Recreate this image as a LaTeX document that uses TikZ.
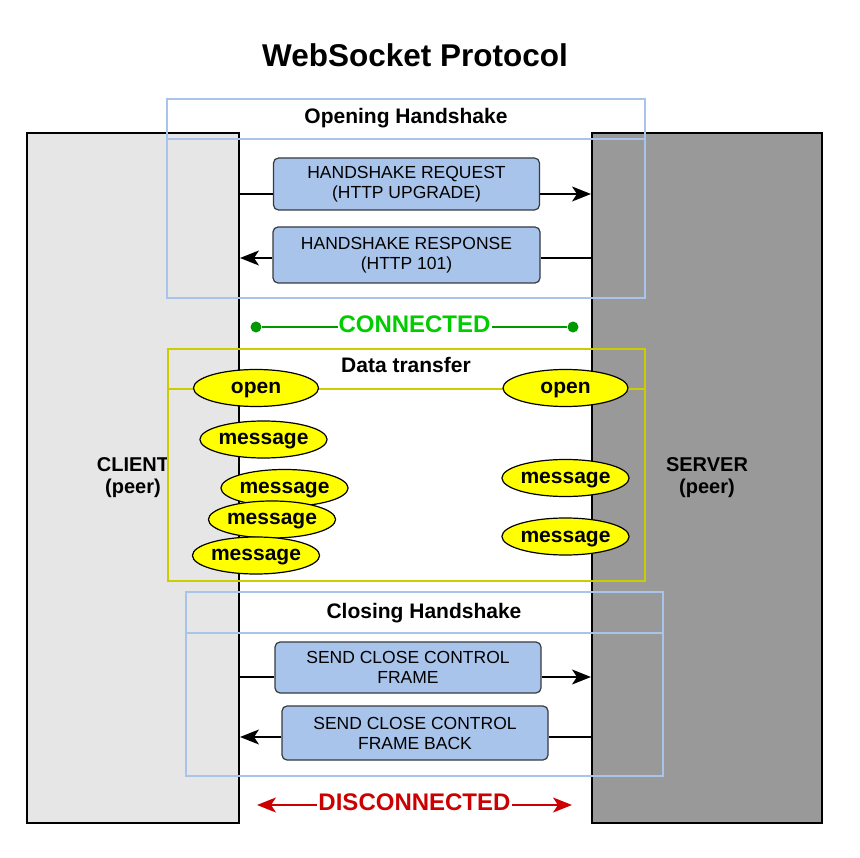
\documentclass[tikz,border=0pt]{standalone}
\usepackage{fontspec}
\setmainfont{Liberation Sans}
\usetikzlibrary{shapes.geometric, arrows.meta}
\definecolor{ClientGray}{RGB}{230,230,230}
\definecolor{ServerGray}{RGB}{153,153,153}
\definecolor{LaneBlue}{RGB}{169,196,235}
\definecolor{LaneYellow}{RGB}{204,204,0}
\definecolor{FrameBlue}{RGB}{169,196,235}
\definecolor{FrameLine}{RGB}{54,57,61}
\definecolor{EventYellow}{RGB}{255,255,0}
\definecolor{ConnectedLine}{RGB}{0,153,0}
\definecolor{ConnectedText}{RGB}{0,204,0}
\definecolor{Disconnected}{RGB}{204,0,0}

\begin{document}
\begin{tikzpicture}[x=1pt, y=-1pt]
			\tikzstyle{peer}=[draw=black, line width=1.5pt, shape=rectangle, minimum height=690pt, align=center, font=\fontsize{20}{22}\selectfont\bfseries];
			\tikzstyle{lane}=[line width=1.2pt];
			\tikzstyle{head}=[anchor=base, inner sep=0pt, font=\fontsize{21}{24}\selectfont\bfseries];
			\tikzstyle{frame}=[draw=FrameLine, fill=FrameBlue, line width=1.2pt, rounded corners=5pt, shape=rectangle, align=center, font=\fontsize{17.5}{20}\selectfont];
			\tikzstyle{event}=[draw=black, fill=EventYellow, line width=1.2pt, shape=ellipse, minimum width=125pt, minimum height=37pt, inner sep=0pt, text height=15pt, text depth=4pt, font=\fontsize{21}{24}\selectfont\bfseries];
			\tikzstyle{flow}=[draw=black, line width=1.5pt];
			\tikzstyle{tip}=[-{Stealth[length=19pt, width=15pt, inset=5pt]}];
			\tikzstyle{dot}=[shape=circle, fill=ConnectedLine, inner sep=0pt, minimum size=11pt];
			\tikzstyle{state}=[fill=white, inner sep=1pt, yshift=3pt, font=\fontsize{24}{26}\selectfont\bfseries];
			\useasboundingbox (0,0) rectangle (860,858);
			\node [anchor=base, font=\fontsize{31.5}{34}\selectfont\bfseries] (title) at (415,67) {WebSocket Protocol};
			\node [peer, fill=ClientGray, minimum width=212pt] (client) at (133,478) {CLIENT\\(peer)};
			\node [peer, fill=ServerGray, minimum width=230pt] (server) at (707,478) {SERVER\\(peer)};
			\draw [lane, draw=LaneBlue] (167,99) rectangle (645,298);
			\draw [lane, draw=LaneBlue] (167,139) -- (645,139);
			\node [head] (openhead) at (406,124) {Opening Handshake};
			\node [frame, minimum width=266pt, minimum height=52pt] (request) at (406.5,184) {HANDSHAKE REQUEST\\(HTTP UPGRADE)};
			\node [frame, minimum width=267pt, minimum height=56pt] (response) at (406.5,255) {HANDSHAKE RESPONSE\\(HTTP 101)};
			\coordinate (reqA) at (239,194);
			\coordinate (reqB) at (591,194);
			\draw [flow] (reqA) -- (reqA -| request.west);
			\draw [flow, tip] (request.east |- reqA) -- (reqB);
			\coordinate (resA) at (592,258);
			\coordinate (resB) at (240,258);
			\draw [flow] (resA) -- (resA -| response.east);
			\draw [flow, tip] (response.west |- resA) -- (resB);
			\node [dot] (con1) at (256,327) {};
			\node [dot] (con2) at (573,327) {};
			\draw [ConnectedLine, line width=1.5pt] (con1) -- node [state, text=ConnectedText] (conlabel) {CONNECTED} (con2);
			\draw [lane, draw=LaneYellow] (168,349) rectangle (645,581);
			\draw [lane, draw=LaneYellow] (168,389) -- (645,389);
			\node [head] (datahead) at (406,373) {Data transfer};
			\node [event] (openC) at (256,388) {open};
			\node [event] (openS) at (565.5,388) {open};
			\node [event] (msgC1) at (263.5,439.5) {message};
			\node [event] (msgC2) at (284.5,488) {message};
			\node [event] (msgC3) at (272,519.5) {message};
			\node [event] (msgC4) at (256,555.5) {message};
			\node [event] (msgS1) at (565.5,478) {message};
			\node [event] (msgS2) at (565.5,536.5) {message};
			\draw [lane, draw=LaneBlue] (186,592) rectangle (663,776);
			\draw [lane, draw=LaneBlue] (186,633) -- (663,633);
			\node [head] (closehead) at (424,618) {Closing Handshake};
			\node [frame, minimum width=266pt, minimum height=51pt] (close) at (408,667.5) {SEND CLOSE CONTROL\\FRAME};
			\node [frame, minimum width=266pt, minimum height=54pt] (closeback) at (415,733) {SEND CLOSE CONTROL\\FRAME BACK};
			\coordinate (clsA) at (239,677);
			\coordinate (clsB) at (591,677);
			\draw [flow] (clsA) -- (clsA -| close.west);
			\draw [flow, tip] (close.east |- clsA) -- (clsB);
			\coordinate (bckA) at (592,737);
			\coordinate (bckB) at (240,737);
			\draw [flow] (bckA) -- (bckA -| closeback.east);
			\draw [flow, tip] (closeback.west |- bckA) -- (bckB);
			\coordinate (dis1) at (257,805);
			\coordinate (dis2) at (572,805);
			\draw [Disconnected, line width=1.5pt, {Stealth[length=19pt, width=15pt, inset=5pt]}-{Stealth[length=19pt, width=15pt, inset=5pt]}] (dis1) -- node [state, text=Disconnected] (dislabel) {DISCONNECTED} (dis2);
		\end{tikzpicture}
\end{document}
